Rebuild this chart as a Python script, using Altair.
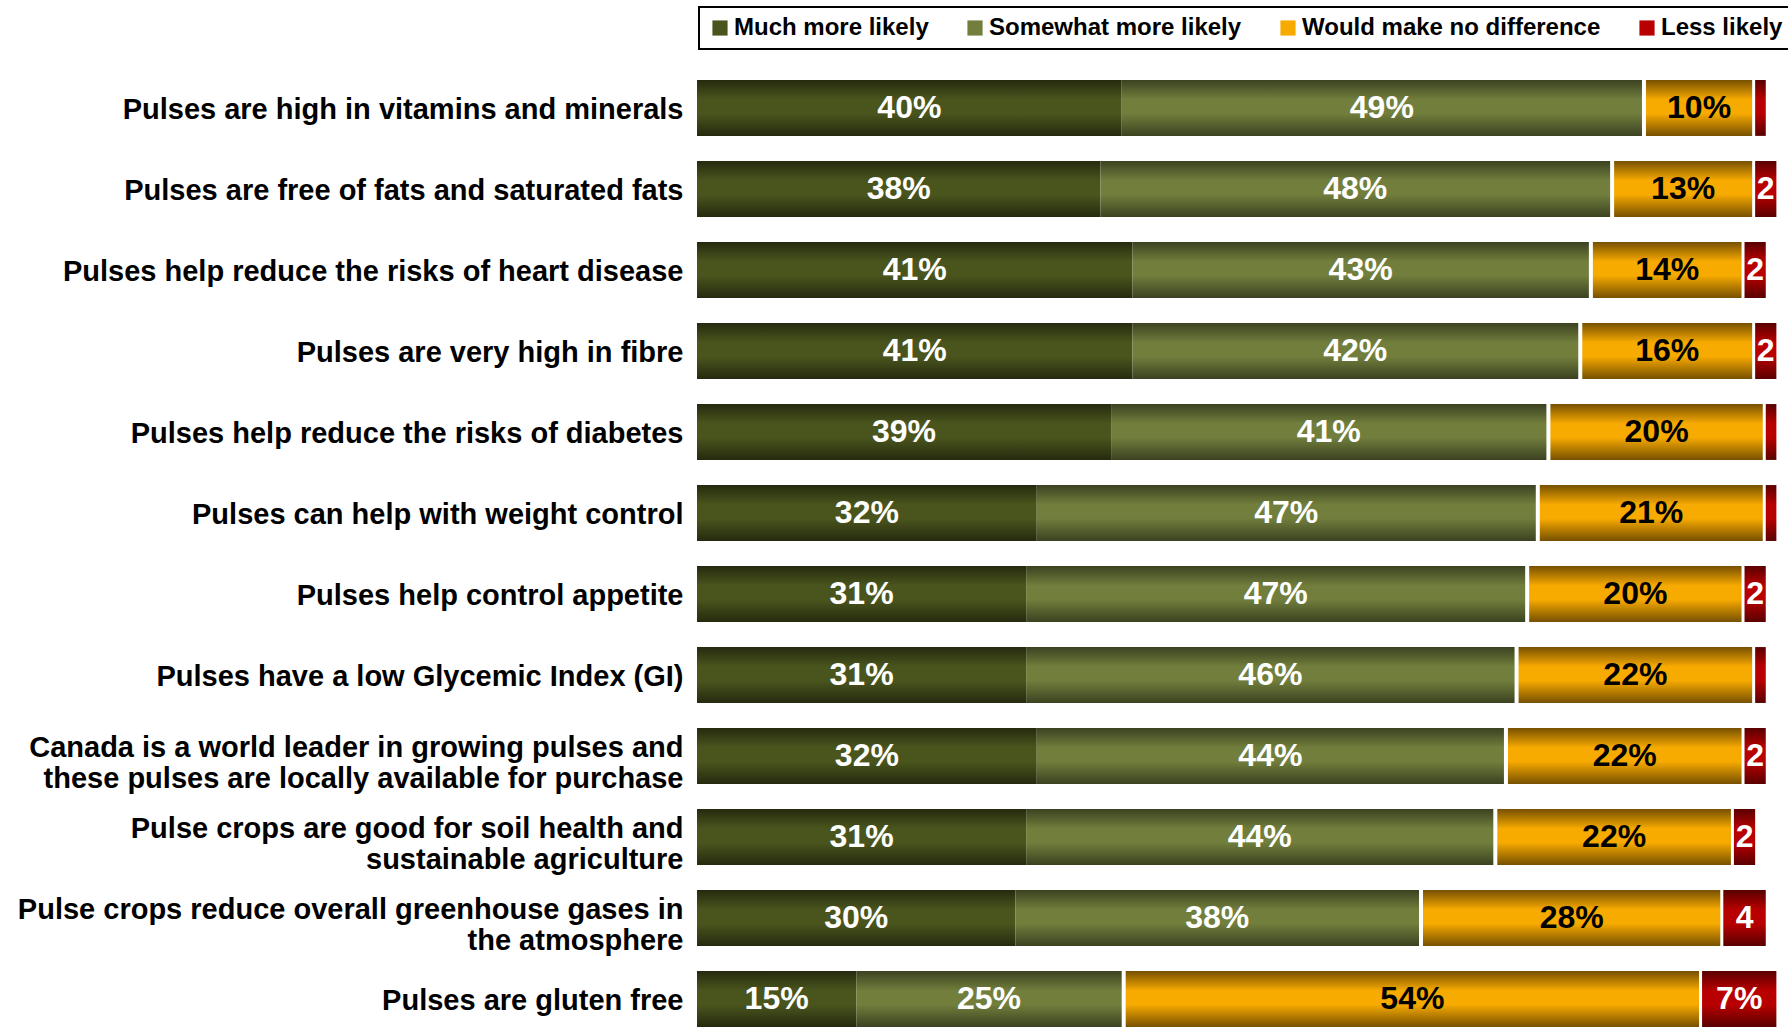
import altair as alt
import pandas as pd

categories = [
    "Pulses are high in vitamins and minerals",
    "Pulses are free of fats and saturated fats",
    "Pulses help reduce the risks of heart disease",
    "Pulses are very high in fibre",
    "Pulses help reduce the risks of diabetes",
    "Pulses can help with weight control",
    "Pulses help control appetite",
    "Pulses have a low Glycemic Index (GI)",
    "Canada is a world leader in growing pulses and\nthese pulses are locally available for purchase",
    "Pulse crops are good for soil health and\nsustainable agriculture",
    "Pulse crops reduce overall greenhouse gases in\nthe atmosphere",
    "Pulses are gluten free",
]
series = ["Much more likely", "Somewhat more likely", "Would make no difference", "Less likely"]

much = [40, 38, 41, 41, 39, 32, 31, 31, 32, 31, 30, 15]
somewhat = [49, 48, 43, 42, 41, 47, 47, 46, 44, 44, 38, 25]
nodiff = [10, 13, 14, 16, 20, 21, 20, 22, 22, 22, 28, 54]
less = [1, 2, 2, 2, 1, 1, 2, 1, 2, 2, 4, 7]
less_labels = ["", "2", "2", "2", "", "", "2", "", "2", "2", "4", "7%"]

edge_colors = ["#252a0f", "#3b4221", "#775000", "#5a0000"]
mid_colors = ["#4a551d", "#717e3c", "#f7aa00", "#b80000"]
text_colors = ["white", "white", "black", "white"]
shifts = [0, 0, 4, 7]

rows = []
for i, cat in enumerate(categories):
    vals = [much[i], somewhat[i], nodiff[i], less[i]]
    labs = [f"{much[i]}%", f"{somewhat[i]}%", f"{nodiff[i]}%", less_labels[i]]
    start = 0
    for s, v, lab in zip(series, vals, labs):
        rows.append({"category": cat, "series": s, "value": v,
                     "start": start, "end": start + v, "mid": start + v / 2,
                     "label": lab})
        start += v
df = pd.DataFrame(rows)

FONT = "Liberation Sans"

xscale = alt.Scale(domain=[0, 102], nice=False, zero=False)
Y = alt.Y(
    "category:N",
    sort=categories,
    scale=alt.Scale(paddingInner=0.31, paddingOuter=0),
    axis=alt.Axis(
        title=None, labelFont=FONT, labelFontSize=29, labelFontWeight="bold",
        labelColor="black", labelPadding=14, ticks=False, domain=False,
        labelLimit=800, labelLineHeight=31.5,
        labelExpr="split(datum.label, '\\n')",
        labelOffset={"condition": {"test": "indexof(datum.value, '\\n') >= 0",
                                   "value": -8.5},
                     "value": 2},
    ),
)

legend_layer = alt.Chart(df).mark_bar().encode(
    x=alt.value(0), x2=alt.value(0), y=Y,
    color=alt.Color(
        "series:N",
        scale=alt.Scale(domain=series, range=mid_colors),
        legend=alt.Legend(
            title=None, orient="none", legendX=2, legendY=-73,
            direction="horizontal", labelFont=FONT, labelFontSize=24,
            labelFontWeight="bold", labelColor="black", symbolType="square",
            symbolSize=230, symbolStrokeWidth=0, labelOffset=2,
            columnPadding=34, padding=9, strokeColor="black",
            fillColor="white", labelLimit=500,
        ),
    ),
)

layers = [legend_layer]
for s, ec, mc, sh in zip(series, edge_colors, mid_colors, shifts):
    grad = alt.LinearGradient(
        gradient="linear", x1=0, x2=0, y1=0, y2=1,
        stops=[
            alt.GradientStop(color=ec, offset=0),
            alt.GradientStop(color=mc, offset=0.35),
            alt.GradientStop(color=mc, offset=0.6),
            alt.GradientStop(color=ec, offset=1),
        ],
    )
    layers.append(
        alt.Chart(df).transform_filter(alt.datum.series == s)
        .mark_bar(fill=grad, xOffset=sh, x2Offset=sh, strokeWidth=0)
        .encode(x=alt.X("start:Q", scale=xscale, axis=None), x2="end:Q", y=Y)
    )

for s, tc, sh in zip(series, text_colors, shifts):
    layers.append(
        alt.Chart(df).transform_filter(alt.datum.series == s)
        .mark_text(font=FONT, fontSize=32, fontWeight="bold", color=tc,
                   dx=sh, align="center", baseline="middle")
        .encode(x=alt.X("mid:Q", scale=xscale, axis=None), y=Y, text="label:N")
    )

chart = alt.layer(*layers).properties(
    width=1083, height=947,
    autosize=alt.AutoSizeParams(type="none"),
    padding={"left": 697, "top": 80, "right": 8, "bottom": 1},
    background="white",
).configure_view(stroke=None).configure_legend(strokeWidth=2)

chart.save("out.html", embed_options={"renderer": "svg", "actions": False})
